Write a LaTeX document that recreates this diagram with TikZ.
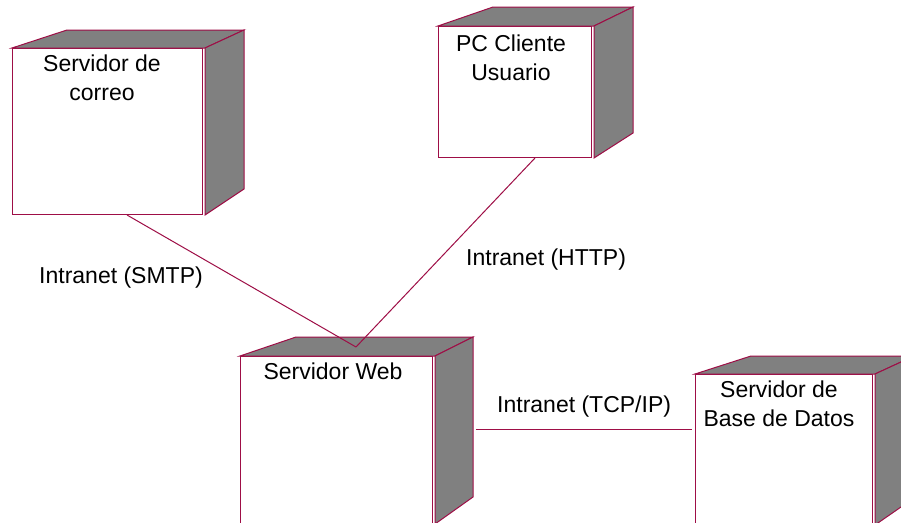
\documentclass[tikz,border=0pt]{standalone}
\usepackage{fontspec}
\setmainfont{Liberation Sans}
\definecolor{rose}{RGB}{158,14,70}
\definecolor{shade}{RGB}{128,128,128}
\begin{document}
\begin{tikzpicture}[x=1pt,y=-1pt,
  front/.style={draw=rose,line width=1pt,fill=white,inner sep=0pt,anchor=north west},
  shadeface/.style={draw=rose,line width=1pt,fill=shade,line join=miter},
  link/.style={draw=rose,line width=1pt},
  lbl/.style={inner sep=0pt,align=center,font=\fontsize{23}{29}\selectfont}]
\useasboundingbox (0,0) rectangle (901,522);
\clip (0,0) rectangle (901,522);
\fill[white] (0,0) rectangle (901,522);

% Servidor de correo
\node[front,minimum width=190pt,minimum height=166pt] (correo) at (12,48) {};
\filldraw[shadeface] (correo.north west) -- ++(55,-18) -- ([shift={(41,-18)}]correo.north east) -- ([xshift=2pt]correo.north east) -- cycle;
\filldraw[shadeface] ([xshift=2pt]correo.north east) -- ([shift={(41,-18)}]correo.north east) -- ([shift={(41,-26)}]correo.south east) -- ([xshift=2pt]correo.south east) -- cycle;
\node[lbl,anchor=north] (correoT) at (102,55) {Servidor de\\correo};

% PC Cliente Usuario
\node[front,minimum width=153pt,minimum height=131pt] (pc) at (438,26) {};
\filldraw[shadeface] (pc.north west) -- ++(55,-19) -- ([shift={(41,-19)}]pc.north east) -- ([xshift=2pt]pc.north east) -- cycle;
\filldraw[shadeface] ([xshift=2pt]pc.north east) -- ([shift={(41,-19)}]pc.north east) -- ([shift={(41,-25)}]pc.south east) -- ([xshift=2pt]pc.south east) -- cycle;
\node[lbl,anchor=north] (pcT) at (511,35) {PC Cliente\\Usuario};

% Servidor Web
\node[front,minimum width=192pt,minimum height=167pt] (web) at (240,356) {};
\filldraw[shadeface] (web.north west) -- ++(56,-19) -- ([shift={(40,-19)}]web.north east) -- ([xshift=2pt]web.north east) -- cycle;
\filldraw[shadeface] ([xshift=2pt]web.north east) -- ([shift={(40,-19)}]web.north east) -- ([shift={(40,-27)}]web.south east) -- ([xshift=2pt]web.south east) -- cycle;
\node[lbl,anchor=north] (webT) at (333,363) {Servidor Web};

% Servidor de Base de Datos
\node[front,minimum width=177pt,minimum height=150pt] (db) at (695,374) {};
\filldraw[shadeface] (db.north west) -- ++(56,-18) -- ([shift={(41,-18)}]db.north east) -- ([xshift=2pt]db.north east) -- cycle;
\filldraw[shadeface] ([xshift=2pt]db.north east) -- ([shift={(41,-18)}]db.north east) -- ([shift={(41,-27)}]db.south east) -- ([xshift=2pt]db.south east) -- cycle;
\node[lbl,anchor=north] (dbT) at (779,381) {Servidor de\\Base de Datos};

% connectors
\coordinate (hub) at (356,347);
\draw[link] ([xshift=115pt]correo.south west) -- (hub);
\draw[link] ([xshift=97pt]pc.south west) -- (hub);
\draw[link] ([shift={(43,73)}]web.north east) -- ([shift={(-3,55)}]db.north west);

% connector labels
\node[lbl,anchor=base west] (smtp) at (39,283) {Intranet (SMTP)};
\node[lbl,anchor=base west] (http) at (466,265) {Intranet (HTTP)};
\node[lbl,anchor=base west] (tcp) at (497,412) {Intranet (TCP/IP)};
\end{tikzpicture}
\end{document}
